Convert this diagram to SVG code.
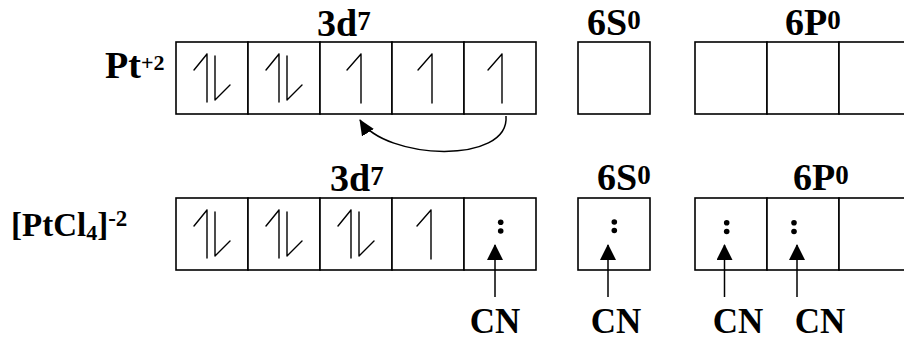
<svg xmlns="http://www.w3.org/2000/svg" width="904" height="343" viewBox="0 0 904 343">
  <style>
    .box { fill: #fff; stroke: #000; stroke-width: 1.6; }
    .spin { fill: none; stroke: #000; stroke-width: 1.4; stroke-linecap: round; stroke-linejoin: round; }
    .lbl { font-family: "Liberation Serif", "Times New Roman", serif; font-weight: bold; fill: #000; }
    .conn { fill: none; stroke: #000; stroke-width: 1.5; }
    .dot { fill: #000; }
  </style>
  <defs>
    <!-- spin glyphs, origin at box centre / box top -->
    <g id="pair">
      <path class="spin" d="M-5,12 V60 M-5,12 L-18,28"/>
      <path class="spin" d="M3,14 V58 L18,43"/>
    </g>
    <g id="single">
      <path class="spin" d="M5,12 V61 M5,12 L-9,28"/>
    </g>
    <marker id="tri" viewBox="0 0 16 16" refX="15" refY="8" markerWidth="16" markerHeight="16" markerUnits="userSpaceOnUse" orient="auto">
      <path d="M0,0 L16,8 L0,16 z" fill="#000"/>
    </marker>
    <marker id="tri-sm" viewBox="0 0 16 14" refX="15" refY="7" markerWidth="16" markerHeight="14" markerUnits="userSpaceOnUse" orient="auto">
      <path d="M0,0 L16,7 L0,14 z" fill="#000"/>
    </marker>
  </defs>

  <!-- Pt(+2) configuration -->
  <g id="pt-label">
    <text class="lbl" x="105" y="78" font-size="38">Pt<tspan font-size="22" dy="-8">+2</tspan></text>
  </g>
  <g id="pt-3d">
    <text class="lbl" x="317" y="36" font-size="38">3d<tspan font-size="27" dy="-6">7</tspan></text>
    <rect class="box" x="176" y="42" width="72" height="72"/>
    <rect class="box" x="248" y="42" width="72" height="72"/>
    <rect class="box" x="320" y="42" width="72" height="72"/>
    <rect class="box" x="392" y="42" width="72" height="72"/>
    <rect class="box" x="464" y="42" width="72" height="72"/>
    <use href="#pair" x="212" y="42"/>
    <use href="#pair" x="284" y="42"/>
    <use href="#single" x="356" y="42"/>
    <use href="#single" x="427" y="42"/>
    <use href="#single" x="497" y="42"/>
  </g>
  <g id="pt-6s">
    <text class="lbl" x="587" y="35" font-size="38">6S<tspan font-size="27" dy="-6">0</tspan></text>
    <rect class="box" x="578" y="42" width="72" height="72"/>
  </g>
  <g id="pt-6p">
    <text class="lbl" x="785" y="35" font-size="38">6P<tspan font-size="27" dy="-6">0</tspan></text>
    <rect class="box" x="695" y="42" width="72" height="72"/>
    <rect class="box" x="767" y="42" width="72" height="72"/>
    <rect class="box" x="839" y="42" width="72" height="72"/>
  </g>

  <!-- [PtCl4](-2) configuration -->
  <g id="ptcl4-label">
    <text class="lbl" x="11" y="236" font-size="33">[PtCl<tspan font-size="22" dy="4">4</tspan><tspan dy="-4">]</tspan><tspan font-size="23" dy="-10">-2</tspan></text>
  </g>
  <g id="ptcl4-3d">
    <text class="lbl" x="330" y="191" font-size="38">3d<tspan font-size="27" dy="-6">7</tspan></text>
    <rect class="box" x="176" y="198" width="72" height="72"/>
    <rect class="box" x="248" y="198" width="72" height="72"/>
    <rect class="box" x="320" y="198" width="72" height="72"/>
    <rect class="box" x="392" y="198" width="72" height="72"/>
    <rect class="box" x="464" y="198" width="72" height="72"/>
    <use href="#pair" x="212" y="198"/>
    <use href="#pair" x="284" y="198"/>
    <use href="#pair" x="356" y="198"/>
    <use href="#single" x="426" y="198"/>
    <circle class="dot" cx="500.7" cy="222.3" r="2.8"/>
    <circle class="dot" cx="500.7" cy="231" r="2.8"/>
  </g>
  <g id="ptcl4-6s">
    <text class="lbl" x="597" y="190" font-size="38">6S<tspan font-size="27" dy="-6">0</tspan></text>
    <rect class="box" x="578" y="198" width="72" height="72"/>
    <circle class="dot" cx="614.3" cy="222" r="2.8"/>
    <circle class="dot" cx="614.3" cy="230.5" r="2.8"/>
  </g>
  <g id="ptcl4-6p">
    <text class="lbl" x="793" y="190" font-size="38">6P<tspan font-size="27" dy="-6">0</tspan></text>
    <rect class="box" x="695" y="198" width="72" height="72"/>
    <rect class="box" x="767" y="198" width="72" height="72"/>
    <rect class="box" x="839" y="198" width="72" height="72"/>
    <circle class="dot" cx="726.7" cy="222.7" r="2.8"/>
    <circle class="dot" cx="726.7" cy="231.5" r="2.8"/>
    <circle class="dot" cx="794" cy="222.7" r="2.8"/>
    <circle class="dot" cx="794" cy="231.5" r="2.8"/>
  </g>

  <!-- ligand labels -->
  <g id="cn-1"><text class="lbl" x="495" y="333" font-size="35" text-anchor="middle">CN</text></g>
  <g id="cn-2"><text class="lbl" x="616" y="333" font-size="35" text-anchor="middle">CN</text></g>
  <g id="cn-3"><text class="lbl" x="738" y="333" font-size="35" text-anchor="middle">CN</text></g>
  <g id="cn-4"><text class="lbl" x="820" y="333" font-size="35" text-anchor="middle">CN</text></g>

  <!-- connectors -->
  <g id="connectors">
    <path class="conn" d="M506,116 C510,165 385,160 360,120" marker-end="url(#tri-sm)"/>
    <line class="conn" x1="495" y1="297" x2="495" y2="245" marker-end="url(#tri)"/>
    <line class="conn" x1="608" y1="297" x2="608" y2="245" marker-end="url(#tri)"/>
    <line class="conn" x1="724.5" y1="297" x2="724.5" y2="245" marker-end="url(#tri)"/>
    <line class="conn" x1="797" y1="297" x2="797" y2="245" marker-end="url(#tri)"/>
  </g>
</svg>
